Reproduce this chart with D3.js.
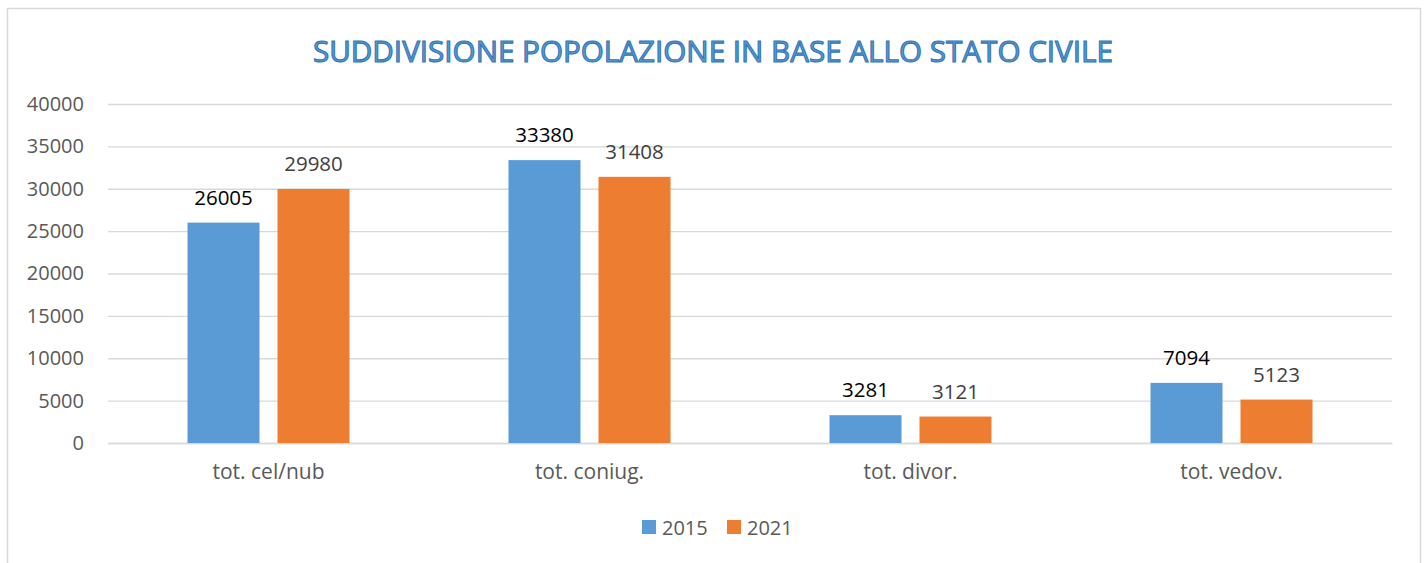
<!DOCTYPE html>
<html>
<head>
<meta charset="utf-8">
<script src="https://cdn.jsdelivr.net/npm/d3@7"></script>
<style>
  body { margin: 0; background: #fff; }
  text { font-family: "Open Sans", "Noto Sans", sans-serif; }
</style>
</head>
<body>
<div id="grafikon"></div>
<script>
// podaci
const categories = ["tot. cel/nub", "tot. coniug.", "tot. divor.", "tot. vedov."];
const series = ["2015", "2021"];
const values2015 = [26005, 33380, 3281, 7094];
const values2021 = [29980, 31408, 3121, 5123];
const yTicks = [0, 5000, 10000, 15000, 20000, 25000, 30000, 35000, 40000];
const colors = ["#5b9bd5", "#ed7d31"];
const labelColors = ["#000000", "#404040"];

const width = 1426, height = 563;
const margin = { top: 104, right: 34, bottom: 120, left: 108 };
const grW = width - margin.left - margin.right;
const grH = height - margin.top - margin.bottom;

const svg = d3.select("#grafikon").append("svg")
    .attr("width", width)
    .attr("height", height);

// okvir
svg.append("rect")
    .attr("x", 7.5).attr("y", 8.5)
    .attr("width", 1413).attr("height", 570)
    .attr("fill", "none")
    .attr("stroke", "#d9d9d9")
    .attr("stroke-width", 1.5);

// naslov
svg.append("text")
    .attr("x", 713).attr("y", 62)
    .attr("text-anchor", "middle")
    .attr("textLength", 800)
    .attr("lengthAdjust", "spacingAndGlyphs")
    .style("font-size", "30px")
    .style("fill", "#5b9bd5")
    .style("stroke", "#2e75b6")
    .style("stroke-width", 1.1)
    .text("SUDDIVISIONE POPOLAZIONE IN BASE ALLO STATO CIVILE");

const g = svg.append("g")
    .attr("transform", `translate(${margin.left},${margin.top})`);

const x0 = d3.scaleBand().domain(categories).range([0, grW]);
const x1 = d3.scaleBand().domain(series)
    .range([x0.bandwidth() / 2 - 81, x0.bandwidth() / 2 + 81])
    .paddingInner(0.2);
const y = d3.scaleLinear().domain([0, 40000]).range([grH, 0]);

// mreza
const yAxis = d3.axisLeft(y).tickValues(yTicks).tickSize(-grW).tickPadding(24)
    .tickFormat(d3.format("d"));
const yG = g.append("g").call(yAxis);
yG.select(".domain").remove();
yG.selectAll(".tick line").attr("stroke", "#d9d9d9").attr("stroke-width", 1.3);
yG.selectAll(".tick text")
    .style("font-size", "20px")
    .style("fill", "#595959")
    .style("font-family", "'Open Sans', sans-serif");

// os x
const xAxis = d3.axisBottom(x0).tickSize(0).tickPadding(21);
const xG = g.append("g").attr("transform", `translate(0,${grH})`).call(xAxis);
xG.select(".domain").attr("stroke", "#d9d9d9").attr("stroke-width", 1.3);
xG.selectAll(".tick text")
    .style("font-size", "21px")
    .style("fill", "#595959")
    .style("font-family", "'Open Sans', sans-serif");

const data = categories.map((c, i) => ({
    category: c,
    vals: [
        { s: series[0], v: values2015[i], k: 0 },
        { s: series[1], v: values2021[i], k: 1 }
    ]
}));

const grupe = g.selectAll(".grupa")
    .data(data)
    .join("g")
    .attr("class", "grupa")
    .attr("transform", d => `translate(${x0(d.category)},0)`);

grupe.selectAll("rect")
    .data(d => d.vals)
    .join("rect")
    .attr("x", d => x1(d.s))
    .attr("y", d => y(d.v))
    .attr("width", x1.bandwidth())
    .attr("height", d => grH - y(d.v))
    .attr("fill", d => colors[d.k]);

grupe.selectAll(".oznaka")
    .data(d => d.vals)
    .join("text")
    .attr("class", "oznaka")
    .attr("x", d => x1(d.s) + x1.bandwidth() / 2)
    .attr("y", d => y(d.v) - 18)
    .attr("text-anchor", "middle")
    .style("font-size", "20.5px")
    .style("fill", d => labelColors[d.k])
    .text(d => d.v);

// legenda
const legenda = svg.append("g").attr("transform", "translate(642,520)");
const stavke = legenda.selectAll("g")
    .data(series)
    .join("g")
    .attr("transform", (d, i) => `translate(${i * 85},0)`);
stavke.append("rect")
    .attr("width", 14).attr("height", 14)
    .attr("fill", (d, i) => colors[i]);
stavke.append("text")
    .attr("x", 20).attr("y", 14.5)
    .style("font-size", "20px")
    .style("fill", "#595959")
    .text(d => d);
</script>
</body>
</html>
